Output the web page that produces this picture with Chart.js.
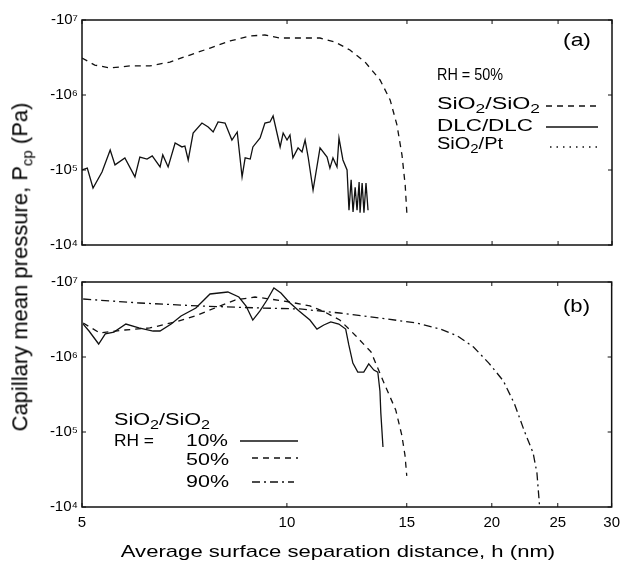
<!DOCTYPE html>
<html><head><meta charset="utf-8">
<script src="https://cdn.jsdelivr.net/npm/chart.js@4/dist/chart.umd.min.js"></script>
<style>
html,body{margin:0;padding:0;background:#fff;}
#wrap{position:relative;width:620px;height:565px;overflow:hidden;background:#fff;}
#ca{position:absolute;left:0;top:0;}
#cb{position:absolute;left:0;top:262px;}
.t{position:absolute;white-space:nowrap;font-family:"Liberation Sans",Arial,Helvetica,sans-serif;color:#000;line-height:1;}
#ytitle{left:22px;top:267px;font-size:22px;transform:translate(-50%,-50%) rotate(-90deg);}
#ytitle sub{font-size:15px;}
#xtitle{left:338px;top:551px;font-size:17px;transform:translate(-50%,-50%) scaleX(1.3);}
</style></head>
<body><div id="wrap"><canvas id="ca" width="620" height="260"></canvas><canvas id="cb" width="620" height="303"></canvas>
<div id="ytitle" class="t">Capillary mean pressure, P<sub>cp</sub> (Pa)</div>
<div id="xtitle" class="t">Average surface separation distance, h (nm)</div></div>
<script>
// ---- axis ticks ----
const xTicks = [5, 10, 15, 20, 25, 30];
const yTicks = [1e4, 1e5, 1e6, 1e7];
const yTickLabels = ['-10\u2074', '-10\u2075', '-10\u2076', '-10\u2077'];

// ---- panel (a): RH = 50% ----
const aSiO2_h = [5.00, 5.22, 5.50, 5.88, 6.29, 6.73, 7.20, 7.71, 8.25, 8.83, 9.28, 9.77, 10.45, 11.18, 11.76, 12.37, 13.02, 13.70, 14.17, 14.50, 14.75, 14.91, 15.0];
const aSiO2_p = [3.11e6, 2.51e6, 2.29e6, 2.44e6, 2.44e6, 2.75e6, 3.41e6, 4.23e6, 5.25e6, 6.12e6, 6.31e6, 5.75e6, 5.75e6, 5.75e6, 5.09e6, 3.98e6, 2.75e6, 1.58e6, 8.6e5, 4.0e5, 1.58e5, 6.3e4, 2.5e4];

const aDLC_h = [5.00, 5.09, 5.19, 5.35, 5.50, 5.59, 5.78, 5.98, 6.08, 6.23, 6.34, 6.51, 6.57, 6.69, 6.85, 7.01, 7.08, 7.16, 7.28, 7.50, 7.66, 7.79, 7.92, 8.11, 8.30, 8.45, 8.59, 8.68, 8.83, 8.91, 9.13, 9.28, 9.44, 9.54, 9.77, 9.87, 10.00, 10.10, 10.20, 10.38, 10.52, 10.63, 10.74, 10.92, 11.18, 11.45, 11.56, 11.68, 11.84, 11.92, 12.08, 12.25, 12.33, 12.42, 12.50, 12.59, 12.67, 12.76, 12.80, 12.89, 12.97, 13.06, 13.15];
const aDLC_p = [1.0e5, 1.06e5, 5.75e4, 9.4e4, 1.85e5, 1.17e5, 1.45e5, 8.1e4, 1.49e5, 1.40e5, 1.54e5, 1.10e5, 1.59e5, 1.10e5, 2.29e5, 2.03e5, 2.09e5, 1.36e5, 3.11e5, 4.23e5, 3.75e5, 3.21e5, 4.37e5, 4.23e5, 2.51e5, 3.21e5, 8.1e4, 1.45e5, 1.40e5, 2.03e5, 2.67e5, 4.23e5, 4.37e5, 5.25e5, 2.03e5, 3.11e5, 2.51e5, 2.93e5, 1.45e5, 1.97e5, 1.74e5, 2.51e5, 1.49e5, 5.4e4, 1.97e5, 1.49e5, 1.06e5, 1.45e5, 1.10e5, 2.67e5, 1.36e5, 1.0e5, 2.9e4, 7.4e4, 2.75e4, 5.9e4, 2.9e4, 6.9e4, 2.7e4, 6.7e4, 2.7e4, 6.7e4, 2.9e4];

const aPt_h = [];
const aPt_p = [];

// ---- panel (b): SiO2/SiO2 ----
const b10_h = [5.02, 5.12, 5.29, 5.41, 5.57, 5.80, 6.06, 6.36, 6.51, 6.76, 6.99, 7.35, 7.71, 8.19, 8.50, 8.71, 8.91, 9.13, 9.35, 9.57, 9.80, 10.07, 10.42, 10.81, 11.07, 11.33, 11.60, 11.92, 12.20, 12.33, 12.50, 12.71, 12.97, 13.19, 13.42, 13.60, 13.70, 13.74, 13.84];
const b10_p = [2.75e6, 2.22e6, 1.49e6, 2.03e6, 2.15e6, 2.75e6, 2.44e6, 2.22e6, 2.22e6, 2.75e6, 3.52e6, 4.50e6, 6.92e6, 7.36e6, 6.31e6, 4.79e6, 3.11e6, 4.11e6, 5.75e6, 8.32e6, 7.14e6, 5.41e6, 4.11e6, 3.11e6, 2.36e6, 2.67e6, 2.93e6, 2.75e6, 2.36e6, 1.45e6, 8.3e5, 6.3e5, 6.3e5, 8.1e5, 6.7e5, 6.3e5, 3.5e5, 1.8e5, 6.3e4];

const b50_h = [5.02, 5.31, 5.78, 6.29, 6.85, 7.33, 7.84, 8.39, 8.98, 9.44, 10.10, 10.81, 11.37, 11.96, 12.63, 13.29, 13.93, 14.45, 14.75, 14.91, 15.0];
const b50_p = [2.84e6, 2.09e6, 2.29e6, 2.44e6, 2.93e6, 3.52e6, 4.50e6, 5.75e6, 6.31e6, 5.93e6, 5.41e6, 4.79e6, 3.98e6, 3.11e6, 1.91e6, 1.17e6, 4.23e5, 1.97e5, 9.1e4, 4.9e4, 2.6e4];

const b90_h = [5.02, 6.08, 7.45, 9.13, 10.45, 11.96, 13.70, 15.5, 16.8, 17.8, 18.8, 19.8, 20.8, 21.6, 22.3, 23.0, 23.3, 23.5];
const b90_p = [5.93e6, 5.25e6, 4.79e6, 4.50e6, 4.37e6, 3.86e6, 3.31e6, 2.84e6, 2.36e6, 1.91e6, 1.36e6, 8.3e5, 4.79e5, 2.36e5, 1.06e5, 5.25e4, 2.84e4, 1.06e4];

// ---- styles ----
const INK = '#000';
const FONT = '"Liberation Sans", Arial, Helvetica, sans-serif';
const DASH = [6, 5];
const DOT = [1.5, 5];
const DASHDOT = [8, 4, 2, 4];
const SOLID = [];

function pts(h, p) { return h.map((v, i) => ({ x: v, y: p[i] })); }
function ds(label, h, p, dash) {
  return { label, data: pts(h, p), borderColor: '#111', borderWidth: 1.3, borderDash: dash, pointRadius: 0, tension: 0, fill: false };
}

function richWidth(ctx, parts, size) {
  let w = 0;
  parts.forEach(([t, sub]) => { ctx.font = (sub ? Math.round(size * 0.75) : size) + 'px ' + FONT; w += ctx.measureText(t).width; });
  return w;
}
function drawRich(ctx, x, y, parts, size, targetW) {
  const nat = richWidth(ctx, parts, size);
  const sx = targetW ? targetW / nat : 1;
  ctx.save();
  ctx.translate(x, y);
  ctx.scale(sx, 1);
  let cx = 0;
  parts.forEach(([t, sub]) => {
    const s = sub ? Math.round(size * 0.75) : size;
    ctx.font = s + 'px ' + FONT;
    ctx.fillText(t, cx, sub ? size * 0.3 : 0);
    cx += ctx.measureText(t).width;
  });
  ctx.restore();
}

const framePlugin = {
  id: 'frame',
  afterDraw(chart, args, opts) {
    const { ctx, chartArea: { left, right, top, bottom } } = chart;
    const xs = chart.scales.x, ys = chart.scales.y;
    ctx.save();
    ctx.strokeStyle = '#111'; ctx.lineWidth = 1.5; ctx.setLineDash([]);
    ctx.strokeRect(left, top, right - left, bottom - top);
    ctx.lineWidth = 1;
    ctx.beginPath();
    xTicks.forEach(v => { const px = xs.getPixelForValue(v); ctx.moveTo(px, bottom); ctx.lineTo(px, bottom - 4); ctx.moveTo(px, top); ctx.lineTo(px, top + 4); });
    yTicks.forEach(v => { const py = ys.getPixelForValue(v); ctx.moveTo(left, py); ctx.lineTo(left + 4, py); ctx.moveTo(right, py); ctx.lineTo(right - 4, py); });
    ctx.stroke();
    ctx.fillStyle = INK; ctx.textBaseline = 'middle'; ctx.textAlign = 'left';
    (opts.texts || []).forEach(t => drawRich(ctx, t.x, t.y, t.parts, t.size || 16, t.w));
    ctx.lineWidth = 1.4;
    (opts.samples || []).forEach(s => { ctx.setLineDash(s.dash); ctx.beginPath(); ctx.moveTo(s.x1, s.y); ctx.lineTo(s.x2, s.y); ctx.stroke(); });
    ctx.restore();
  }
};

function makeOptions(showX, notes, padRight) {
  return {
    responsive: false, animation: false,
    layout: { padding: { left: 0, right: padRight, top: 20, bottom: 0 } },
    plugins: { legend: { display: false }, tooltip: { enabled: false }, frame: notes },
    scales: {
      x: {
        type: 'logarithmic', min: 5, max: 30,
        afterBuildTicks: s => { s.ticks = xTicks.map(v => ({ value: v })); },
        grid: { display: false, drawTicks: true, tickLength: 7 }, border: { display: false },
        ticks: { display: showX, autoSkip: false, maxRotation: 0, padding: 0, color: INK, font: { family: FONT, size: 15 }, callback: v => String(v) },
        afterFit: s => { s.height = showX ? 58 : 15; }
      },
      y: {
        type: 'logarithmic', min: 1e4, max: 1e7,
        afterBuildTicks: s => { s.ticks = yTicks.map(v => ({ value: v })); },
        grid: { display: false, drawTicks: false }, border: { display: false },
        ticks: { padding: 4, color: INK, font: { family: FONT, size: 15 }, callback: v => yTickLabels[yTicks.indexOf(v)] },
        afterFit: s => { s.width = 82; }
      }
    }
  };
}

const notesA = {
  texts: [
    { x: 563, y: 41, parts: [['(a)', 0]], size: 18, w: 28 },
    { x: 437, y: 76, parts: [['RH = 50%', 0]], size: 16, w: 66 },
    { x: 437, y: 105, parts: [['SiO', 0], ['2', 1], ['/SiO', 0], ['2', 1]], size: 16, w: 103 },
    { x: 437, y: 127, parts: [['DLC/DLC', 0]], size: 16, w: 96 },
    { x: 437, y: 145, parts: [['SiO', 0], ['2', 1], ['/Pt', 0]], size: 16, w: 66 }
  ],
  samples: [
    { x1: 546, x2: 598, y: 106, dash: DASH },
    { x1: 546, x2: 598, y: 127, dash: SOLID },
    { x1: 550, x2: 598, y: 147, dash: DOT }
  ]
};
const notesB = {
  texts: [
    { x: 563, y: 45, parts: [['(b)', 0]], size: 18, w: 27 },
    { x: 114, y: 159, parts: [['SiO', 0], ['2', 1], ['/SiO', 0], ['2', 1]], size: 16, w: 96 },
    { x: 114, y: 180, parts: [['RH =', 0]], size: 16, w: 40 },
    { x: 186, y: 180, parts: [['10%', 0]], size: 16, w: 42 },
    { x: 186, y: 199, parts: [['50%', 0]], size: 16, w: 43 },
    { x: 186, y: 221, parts: [['90%', 0]], size: 16, w: 43 }
  ],
  samples: [
    { x1: 240, x2: 298, y: 179, dash: SOLID },
    { x1: 252, x2: 298, y: 196, dash: DASH },
    { x1: 252, x2: 294, y: 220, dash: DASHDOT }
  ]
};

new Chart(document.getElementById('ca'), {
  type: 'line',
  data: { datasets: [
    ds('SiO2/SiO2', aSiO2_h, aSiO2_p, DASH),
    ds('DLC/DLC', aDLC_h, aDLC_p, SOLID),
    ds('SiO2/Pt', aPt_h, aPt_p, DOT)
  ] },
  options: makeOptions(false, notesA, 8),
  plugins: [framePlugin]
});

new Chart(document.getElementById('cb'), {
  type: 'line',
  data: { datasets: [
    ds('RH 10%', b10_h, b10_p, SOLID),
    ds('RH 50%', b50_h, b50_p, DASH),
    ds('RH 90%', b90_h, b90_p, DASHDOT)
  ] },
  options: makeOptions(true, notesB, 0),
  plugins: [framePlugin]
});
</script>
</body></html>
